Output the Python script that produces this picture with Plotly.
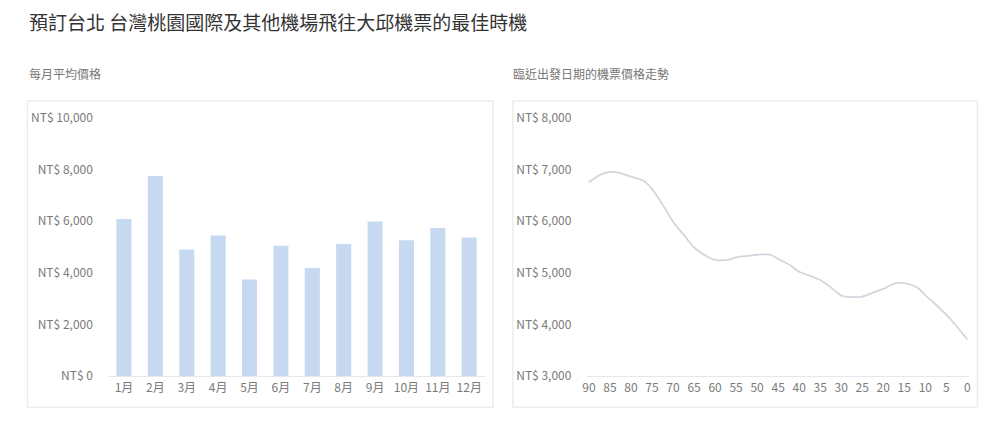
import plotly.graph_objects as go

# data
title_text = "預訂台北 台灣桃園國際及其他機場飛往大邱機票的最佳時機"
left_title = "每月平均價格"
right_title = "臨近出發日期的機票價格走勢"

months = ["1月", "2月", "3月", "4月", "5月", "6月", "7月", "8月", "9月", "10月", "11月", "12月"]
monthly_price = [6080, 7750, 4900, 5440, 3740, 5050, 4190, 5120, 5990, 5260, 5730, 5370]

days_before = [90, 87, 85, 83, 80, 77, 75, 72, 70, 67, 65, 62, 60, 57, 55, 52, 50, 47,
               45, 42, 40, 37, 35, 32, 30, 27, 25, 22, 20, 17, 15, 12, 10, 5, 0]
trend_price = [6750, 6910, 6950, 6940, 6860, 6780, 6620, 6260, 5990, 5690, 5490, 5320,
               5250, 5250, 5300, 5330, 5350, 5350, 5270, 5140, 5020, 4930, 4860, 4690,
               4560, 4530, 4540, 4630, 4690, 4800, 4800, 4720, 4570, 4190, 3710]

bar_ticks = [0, 2000, 4000, 6000, 8000, 10000]
line_yticks = [3000, 4000, 5000, 6000, 7000, 8000]
line_xticks = list(range(90, -1, -5))

FONT = "Noto Sans CJK TC"
TICK_COLOR = "#7a7a7a"


def money(v):
    return f"NT$ {v:,}"


# the captured page comes out slightly inset/squeezed; map target pixels to paper coords
def px(x):
    return ((x - 4.6) / 0.994) / 1000


def py(y):
    return 1 - ((y - 8.7) / 0.963) / 428


fig = go.Figure()

fig.add_trace(go.Bar(
    x=months, y=monthly_price,
    marker=dict(color="#c7d8f1", line=dict(width=0)),
    xaxis="x", yaxis="y", hoverinfo="x+y",
))
fig.add_trace(go.Scatter(
    x=days_before, y=trend_price, mode="lines",
    line=dict(color="#d2d7dd", width=1.8, shape="spline", smoothing=1.0),
    xaxis="x2", yaxis="y2",
))

axis_common = dict(
    showgrid=False, zeroline=False, fixedrange=True,
    tickfont=dict(family=FONT, size=12, color=TICK_COLOR),
)

fig.update_layout(
    width=1000, height=428,
    margin=dict(l=0, r=0, t=0, b=0),
    paper_bgcolor="white", plot_bgcolor="rgba(0,0,0,0)",
    showlegend=False, bargap=0.52,
    font=dict(family=FONT),
    xaxis=dict(
        domain=[px(108), px(485)], anchor="y",
        showline=True, linecolor="#e4e8ee", linewidth=1,
        ticks="", ticklen=0, **axis_common,
    ),
    yaxis=dict(
        domain=[py(376), py(116.7)], anchor="x", range=[0, 10000],
        tickvals=bar_ticks, ticktext=[money(v) for v in bar_ticks],
        showline=False, ticks="outside", ticklen=12, tickcolor="rgba(0,0,0,0)",
        **axis_common,
    ),
    xaxis2=dict(
        domain=[px(587), px(970)], anchor="y2", range=[90.5, -0.5],
        tickvals=line_xticks, ticktext=[str(v) for v in line_xticks],
        showline=True, linecolor="#e4e8ee", linewidth=1,
        ticks="", ticklen=0, **axis_common,
    ),
    yaxis2=dict(
        domain=[py(376), py(116.7)], anchor="x2", range=[3000, 8000],
        tickvals=line_yticks, ticktext=[money(v) for v in line_yticks],
        showline=False, ticks="outside", ticklen=12, tickcolor="rgba(0,0,0,0)",
        **axis_common,
    ),
)

# panel boxes
for x0, x1 in [(27, 493), (513, 978)]:
    fig.add_shape(
        type="rect", xref="paper", yref="paper",
        x0=px(x0), x1=px(x1), y0=py(407), y1=py(100),
        line=dict(color="#ebedf0", width=1.5), fillcolor="rgba(0,0,0,0)", layer="below",
    )

fig.add_annotation(
    text=title_text, xref="paper", yref="paper", x=px(27), y=py(20),
    xanchor="left", yanchor="middle", showarrow=False,
    font=dict(family=FONT, size=19, color="#333333"),
)
fig.add_annotation(
    text=left_title, xref="paper", yref="paper", x=px(27), y=py(72),
    xanchor="left", yanchor="middle", showarrow=False,
    font=dict(family=FONT, size=12, color="#777777"),
)
fig.add_annotation(
    text=right_title, xref="paper", yref="paper", x=px(511), y=py(72),
    xanchor="left", yanchor="middle", showarrow=False,
    font=dict(family=FONT, size=12, color="#777777"),
)

pin_js = (
    "document.documentElement.style.overflow='hidden';"
    "document.body.style.margin='0';document.body.style.overflow='hidden';"
    "var gd=document.getElementsByClassName('plotly-graph-div')[0];"
    "gd.style.position='absolute';gd.style.top='0px';gd.style.left='0px';"
)
fig.write_html("out.html", config={"displayModeBar": False}, post_script=pin_js)
